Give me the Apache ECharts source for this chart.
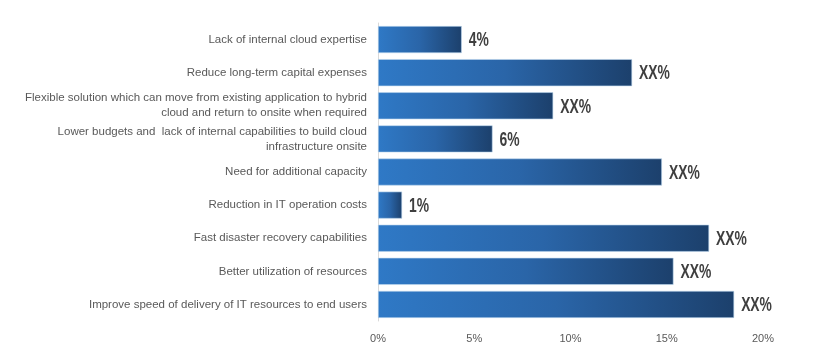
<!DOCTYPE html>
<html><head><meta charset="utf-8">
<script src="https://cdn.jsdelivr.net/npm/echarts@6/dist/echarts.min.js"></script>
<style>html,body{margin:0;padding:0;background:#fff}#c{width:828px;height:359px}</style>
</head><body><div id="c"></div>
<script>
const categories = [
  "Lack of internal cloud expertise",
  "Reduce long-term capital expenses",
  "Flexible solution which can move from existing application to hybrid\ncloud and return to onsite when required",
  "Lower budgets and  lack of internal capabilities to build cloud\ninfrastructure onsite",
  "Need for additional capacity",
  "Reduction in IT operation costs",
  "Fast disaster recovery capabilities",
  "Better utilization of resources",
  "Improve speed of delivery of IT resources to end users"
];
const values = [4.35, 13.2, 9.1, 5.95, 14.75, 1.25, 17.2, 15.35, 18.5];
const valueLabels = ["4%", "XX%", "XX%", "6%", "XX%", "1%", "XX%", "XX%", "XX%"];
const xTicks = [0, 5, 10, 15, 20];

const chart = echarts.init(document.getElementById('c'), null, {renderer: 'canvas'});
chart.setOption({
  animation: false,
  grid: {left: 378, right: 65, top: 23, bottom: 38, containLabel: false},
  xAxis: {
    type: 'value', min: xTicks[0], max: xTicks[xTicks.length - 1], interval: 5,
    axisLine: {show: false}, axisTick: {show: false}, splitLine: {show: false},
    axisLabel: {formatter: v => v + '%', color: '#595959', fontSize: 11, fontFamily: 'Arial, Liberation Sans', margin: 12}
  },
  yAxis: {
    type: 'category', inverse: true, data: categories,
    axisLine: {show: true, lineStyle: {color: '#D9D9D9', width: 1}},
    axisTick: {show: false},
    axisLabel: {color: '#595959', fontSize: 11.5, fontFamily: 'Arial, Liberation Sans', margin: 11, lineHeight: 15, align: 'right'}
  },
  series: [{
    type: 'bar',
    data: values,
    barCategoryGap: '18.4%',
    itemStyle: {
      color: new echarts.graphic.LinearGradient(0, 0, 1, 0, [
        {offset: 0, color: '#2F79C6'},
        {offset: 0.5, color: '#2A65A8'},
        {offset: 1, color: '#1C406C'}
      ]),
      borderColor: '#BDD7EE', borderWidth: 0.6
    }
  }, {
    type: 'custom',
    data: values.map((v, i) => [v, i]),
    silent: true,
    renderItem: function (params, api) {
      const p = api.coord([api.value(0), api.value(1)]);
      const i = params.dataIndex;
      return {
        type: 'text',
        x: p[0] + 7, y: p[1] + 1,
        scaleX: 0.66, scaleY: 1.0,
        style: {
          text: valueLabels[i],
          fill: '#3F3F3F',
          font: 'bold 21px "Liberation Sans", Arial, sans-serif',
          align: 'left', verticalAlign: 'middle'
        }
      };
    }
  }]
});
</script></body></html>
